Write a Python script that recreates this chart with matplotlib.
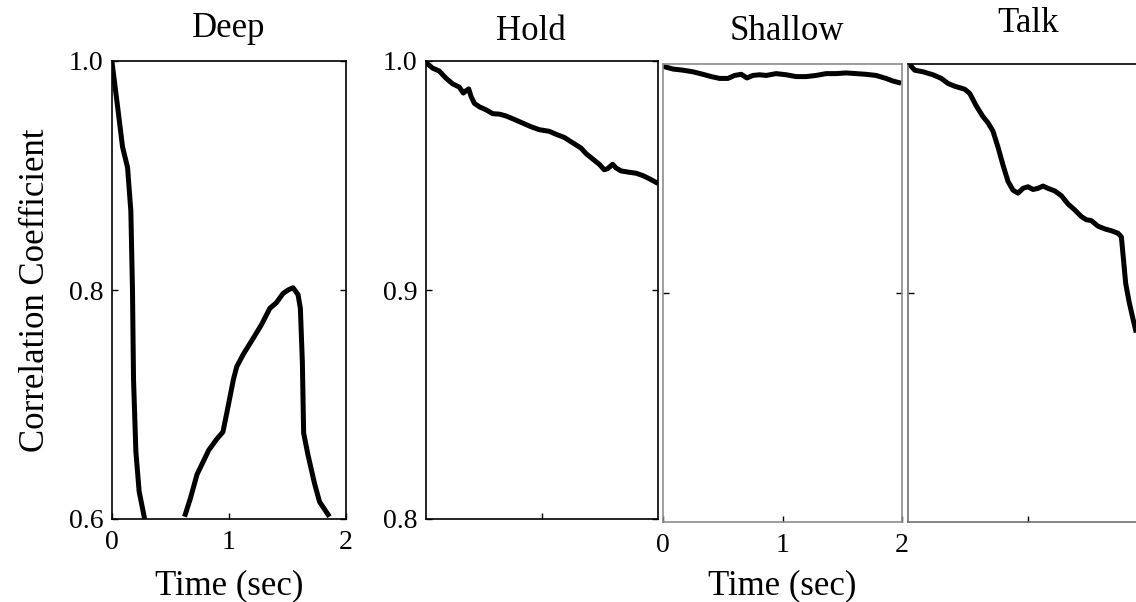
"""
Correlation coefficient over time for four breathing conditions.
"""

import matplotlib
matplotlib.use("Agg")
import matplotlib.pyplot as plt

plt.rcParams['font.family'] = ['Liberation Serif', 'DejaVu Serif']

# Deep: the curve leaves the plotted range, so it comes in two pieces
deep_t1 = [0.0, 0.048, 0.09, 0.133, 0.161, 0.175, 0.184, 0.204, 0.232, 0.283]
deep_r1 = [0.999, 0.960, 0.925, 0.907, 0.869, 0.800, 0.722, 0.659, 0.624, 0.598]
deep_t2 = [0.62, 0.67, 0.727, 0.798, 0.826, 0.897, 0.948, 0.982, 1.038, 1.066, 1.123,
           1.208, 1.279, 1.349, 1.406, 1.462, 1.505, 1.547, 1.59, 1.61, 1.627, 1.638,
           1.675, 1.731, 1.774, 1.859]
deep_r2 = [0.602, 0.618, 0.639, 0.654, 0.660, 0.670, 0.676, 0.693, 0.722, 0.733, 0.744,
           0.758, 0.770, 0.784, 0.789, 0.797, 0.800, 0.802, 0.796, 0.784, 0.737, 0.675,
           0.656, 0.631, 0.615, 0.602]

hold_t = [0.014, 0.057, 0.115, 0.172, 0.23, 0.287, 0.322, 0.345, 0.368, 0.388, 0.417,
          0.46, 0.517, 0.575, 0.632, 0.69, 0.761, 0.833, 0.905, 0.977, 1.063, 1.121,
          1.193, 1.264, 1.336, 1.379, 1.437, 1.494, 1.537, 1.566, 1.609, 1.638, 1.681,
          1.753, 1.81, 1.868, 1.925, 1.983]
hold_r = [0.9987, 0.9969, 0.9956, 0.9925, 0.990, 0.9886, 0.986, 0.987, 0.9878, 0.9846,
          0.9815, 0.980, 0.9787, 0.977, 0.9768, 0.976, 0.9745, 0.9729, 0.9713, 0.970,
          0.9693, 0.968, 0.9666, 0.9643, 0.962, 0.9596, 0.9572, 0.9549, 0.9525, 0.953,
          0.9549, 0.9533, 0.952, 0.9514, 0.951, 0.950, 0.9486, 0.947]

shallow_t = [0.006, 0.084, 0.167, 0.25, 0.334, 0.404, 0.474, 0.543, 0.599, 0.655, 0.702,
             0.752, 0.808, 0.864, 0.947, 1.031, 1.114, 1.198, 1.281, 1.365, 1.448, 1.532,
             1.616, 1.699, 1.783, 1.866, 1.922, 1.972]
shallow_r = [0.9989, 0.9978, 0.9973, 0.9966, 0.9955, 0.9945, 0.9937, 0.9937, 0.995,
             0.9955, 0.9939, 0.995, 0.9953, 0.995, 0.9958, 0.9953, 0.9945, 0.9945, 0.995,
             0.9958, 0.9958, 0.9961, 0.9958, 0.9955, 0.995, 0.9937, 0.9926, 0.9919]

talk_t = [0.019, 0.056, 0.125, 0.208, 0.278, 0.333, 0.389, 0.472, 0.514, 0.569, 0.625,
          0.667, 0.708, 0.75, 0.792, 0.833, 0.875, 0.917, 0.958, 1.0, 1.042, 1.083,
          1.125, 1.167, 1.222, 1.278, 1.333, 1.389, 1.444, 1.486, 1.528, 1.583, 1.639,
          1.694, 1.75, 1.778, 1.792, 1.814, 1.842, 1.869, 1.897]
talk_r = [0.9994, 0.9973, 0.9966, 0.9953, 0.9937, 0.9915, 0.9903, 0.989, 0.9872, 0.9817,
          0.977, 0.9743, 0.9707, 0.9637, 0.9558, 0.9488, 0.9449, 0.9436, 0.9457, 0.9464,
          0.9452, 0.9457, 0.9467, 0.9457, 0.9446, 0.9425, 0.9389, 0.9363, 0.9334, 0.932,
          0.9316, 0.9292, 0.928, 0.9272, 0.9261, 0.9245, 0.9167, 0.9042, 0.8963, 0.89,
          0.8838]

titles = ['Deep', 'Hold', 'Shallow', 'Talk']
deep_yticks = [0.6, 0.8, 1.0]
deep_ylabels = ['0.6', '0.8', '1.0']
zoom_yticks = [0.8, 0.9, 1.0]
zoom_ylabels = ['0.8', '0.9', '1.0']
time_ticks = [0, 1, 2]
time_labels = ['0', '1', '2']

W, H = 1136, 602
BIG = 25
SMALL = 20
LW = 3.6


def px_rect(left, top, right, bottom):
    return [left / W, 1 - bottom / H, (right - left) / W, (bottom - top) / H]


def style_axis(ax, spine_color='black'):
    ax.set_xlim(0, 2)
    ax.tick_params(direction='in', length=4, width=1, top=False, right=True,
                   labelsize=SMALL, pad=6)
    ax.tick_params(axis='x', pad=8)
    for sp in ax.spines.values():
        sp.set_linewidth(1.2)
        sp.set_color(spine_color)


fig = plt.figure(figsize=(W / 100, H / 100), dpi=100)
fig.patch.set_facecolor('white')

ax_deep = fig.add_axes(px_rect(112, 61, 346, 519))
ax_hold = fig.add_axes(px_rect(426, 61, 658, 519))
ax_shal = fig.add_axes(px_rect(663, 64, 902, 522))
ax_talk = fig.add_axes(px_rect(908, 64, 1148, 522))

# Deep
style_axis(ax_deep)
ax_deep.plot(deep_t1, deep_r1, color='black', lw=LW, solid_capstyle='butt')
ax_deep.plot(deep_t2, deep_r2, color='black', lw=LW, solid_capstyle='butt')
ax_deep.set_ylim(0.6, 1.0)
ax_deep.set_yticks(deep_yticks, deep_ylabels)
ax_deep.set_xticks(time_ticks, time_labels)
ax_deep.set_ylabel('Correlation Coefficient', fontsize=BIG, labelpad=12)
ax_deep.set_xlabel('Time (sec)', fontsize=BIG, labelpad=10)

# Hold
style_axis(ax_hold)
ax_hold.plot(hold_t, hold_r, color='black', lw=LW)
ax_hold.set_ylim(0.8, 1.0)
ax_hold.set_yticks(zoom_yticks, zoom_ylabels)
ax_hold.set_xticks([1], [''])

# Shallow
style_axis(ax_shal, '#8c8c8c')
ax_shal.plot(shallow_t, shallow_r, color='black', lw=LW)
ax_shal.set_ylim(0.8, 1.0)
ax_shal.set_yticks([0.9], [''])
ax_shal.set_xticks(time_ticks, time_labels)
ax_shal.set_xlabel('Time (sec)', fontsize=BIG, labelpad=8)

# Talk
style_axis(ax_talk, '#707070')
ax_talk.spines['top'].set_color('black')
ax_talk.plot(talk_t, talk_r, color='black', lw=LW)
ax_talk.set_ylim(0.8, 1.0)
ax_talk.set_yticks([0.9], [''])
ax_talk.set_xticks([1], [''])

title_y = [1.07, 1.065, 1.072, 1.088]
title_x = [0.5, 0.45, 0.52, 0.5]
for ax, name, tx, ty in zip([ax_deep, ax_hold, ax_shal, ax_talk], titles, title_x, title_y):
    ax.text(tx, ty, name, transform=ax.transAxes, ha='center', va='center', fontsize=BIG)

plt.savefig('out.png', dpi=100)
plt.close(fig)
